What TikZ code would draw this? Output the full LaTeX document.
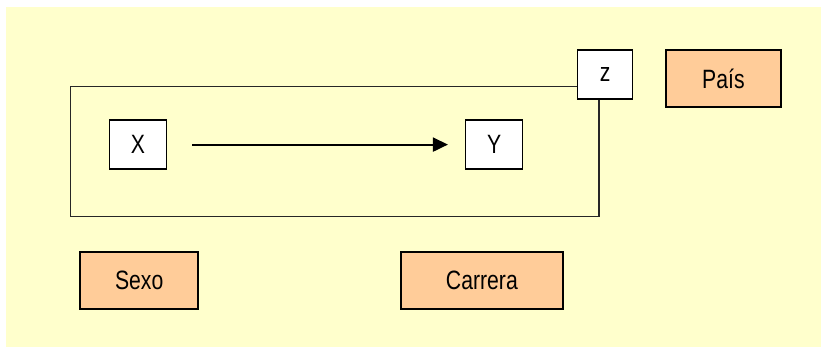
\documentclass[tikz,border=0pt]{standalone}
\usepackage{fontspec}
\setmainfont{Liberation Sans}[FakeStretch=0.8]
\usepackage{tikz}
\usetikzlibrary{positioning}
\usetikzlibrary{arrows.meta}
\definecolor{fondo}{HTML}{FFFFCC}
\definecolor{durazno}{HTML}{FFCC99}
\tikzset{every picture/.style={x=1pt,y=-1pt},
  var/.style={draw,line width=1.5pt,fill=white,minimum width=57pt,minimum height=49pt,inner sep=0pt},
  ctrl/.style={draw,line width=1.5pt,fill=durazno,minimum height=57pt,inner sep=0pt}}

\begin{document}
\begin{tikzpicture}[font=\fontsize{26.5}{28}\selectfont]
\useasboundingbox (0,0) rectangle (821,347);
\fill[fondo] (6,7) rectangle (821,347);
\node (marco) at (334.6,151.6) [draw, line width=1.5pt, draw=black!85, minimum width=528.5pt, minimum height=130pt] {};
\node (x) at (138,144.6) [var] {X};
\node (y) at (494.2,144.6) [var] {Y};
\node (z) at (605.2,74.6) [var, minimum width=55pt] {z};
\node (pais) at (723.4,78.4) [ctrl, minimum width=115pt] {País};
\node (sexo) at (139.2,280.6) [ctrl, minimum width=118pt] {Sexo};
\node (carrera) at (481.9,280.6) [ctrl, minimum width=162pt] {Carrera};
\draw[line width=2pt, -{Triangle[length=15pt,width=14pt]}, shorten <=25pt, shorten >=17pt] (x) -- (y);
\end{tikzpicture}
\end{document}
